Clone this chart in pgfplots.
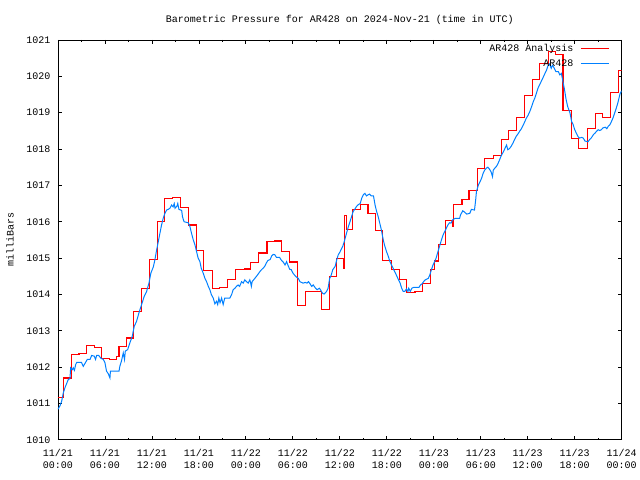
\documentclass[border=0pt]{standalone}
\usepackage{pgfplots}
\pgfplotsset{compat=1.18}
\usepackage{fontspec}
\setmainfont{Liberation Mono}
\definecolor{arred}{RGB}{255,0,0}
\definecolor{arblue}{RGB}{0,128,255}
\pgfplotstableread{
t p
0 1011.16
0.68 1011.70
1.74 1012.34
2.68 1012.38
3.6 1012.59
4.72 1012.53
5.6 1012.23
6.6 1012.21
7.5 1012.30
7.8 1012.56
8.7 1012.80
9.7 1013.52
10.7 1014.17
11.7 1014.97
12.68 1016.00
13.66 1016.65
14.64 1016.67
15.66 1016.40
16.64 1015.91
17.7 1015.20
18.6 1014.65
19.7 1014.16
20.6 1014.20
21.6 1014.40
22.7 1014.68
23.8 1014.70
24.6 1014.88
25.6 1015.14
26.7 1015.45
27.6 1015.47
28.6 1015.18
29.6 1014.89
30.6 1013.69
31.6 1014.08
32.7 1014.07
33.7 1013.58
34.7 1014.49
35.6 1015.00
36.5 1014.72
36.6 1016.16
36.9 1015.78
37.6 1016.33
38.6 1016.47
39.6 1016.23
40.6 1015.75
41.5 1014.93
42.6 1014.68
43.6 1014.40
44.5 1014.05
45.6 1014.08
46.6 1014.29
47.6 1014.68
48.1 1014.92
48.6 1015.38
49.55 1016.03
50.35 1015.86
50.55 1016.47
51.6 1016.62
52.5 1016.85
53.6 1017.47
54.5 1017.75
55.6 1017.82
56.6 1018.27
57.6 1018.52
58.6 1018.87
59.6 1019.46
60.6 1019.92
61.5 1020.36
62.6 1020.68
63.6 1020.59
64.5 1019.05
65.6 1018.30
66.5 1018.02
67.6 1018.57
68.6 1018.97
69.6 1018.87
70.6 1019.56
71.6 1020.15
72 1020.15
}\analysis
\pgfplotstableread{
t p
0.0 1010.84
0.25 1010.93
0.47 1011.06
0.68 1011.29
0.89 1011.43
1.11 1011.55
1.32 1011.66
1.53 1011.68
1.62 1011.98
1.83 1011.93
1.95 1011.98
2.1 1011.91
2.26 1012.07
2.4 1012.13
3.0 1012.13
3.23 1012.02
3.45 1012.10
3.74 1012.21
4.1 1012.21
4.3 1012.32
4.64 1012.30
4.8 1012.21
4.94 1012.32
5.2 1012.32
5.5 1012.24
5.8 1012.21
6.0 1012.12
6.2 1011.89
6.42 1011.82
6.64 1011.70
6.7 1011.89
7.8 1011.89
7.9 1012.02
8.1 1012.16
8.34 1012.39
8.5 1012.21
8.6 1012.44
8.9 1012.48
9.19 1012.67
9.49 1012.85
9.74 1013.12
10.04 1013.26
10.34 1013.49
10.68 1013.72
11.02 1013.95
11.32 1014.08
11.62 1014.31
11.87 1014.59
12.17 1014.75
12.38 1014.95
12.6 1015.22
12.81 1015.45
13.02 1015.68
13.23 1015.91
13.45 1016.10
13.66 1016.23
13.87 1016.32
14.08 1016.34
14.3 1016.37
14.51 1016.46
14.7 1016.41
14.85 1016.50
14.95 1016.37
15.2 1016.43
15.3 1016.50
15.45 1016.34
15.8 1016.31
15.9 1016.14
16.1 1016.00
16.64 1015.97
16.85 1015.87
17.06 1015.68
17.28 1015.50
17.5 1015.36
17.7 1015.18
17.9 1015.00
18.13 1014.90
18.3 1014.72
18.56 1014.58
18.77 1014.44
18.98 1014.35
19.2 1014.22
19.4 1014.13
19.6 1013.99
19.83 1013.90
20.04 1013.74
20.25 1013.81
20.4 1013.72
20.55 1013.90
20.7 1013.77
20.9 1013.90
21.1 1013.72
21.3 1013.90
21.95 1013.90
22.17 1013.99
22.38 1014.13
22.6 1014.17
22.8 1014.22
23.0 1014.26
23.2 1014.22
23.45 1014.35
23.66 1014.31
23.87 1014.40
24.08 1014.35
24.3 1014.31
24.5 1014.40
24.6 1014.33
24.7 1014.22
24.8 1014.35
25.4 1014.51
25.8 1014.63
26.0 1014.68
26.2 1014.72
26.4 1014.77
26.6 1014.86
26.8 1014.93
27.1 1014.96
27.3 1015.06
27.5 1015.10
27.7 1015.09
27.9 1015.02
28.3 1015.02
28.5 1014.95
28.8 1014.88
29.0 1014.81
29.2 1014.90
29.4 1014.79
29.6 1014.69
29.8 1014.68
30.0 1014.59
30.3 1014.51
30.5 1014.47
30.7 1014.44
30.9 1014.35
31.3 1014.31
31.6 1014.33
31.8 1014.31
32.0 1014.35
32.2 1014.29
32.4 1014.22
32.6 1014.26
32.9 1014.17
33.1 1014.13
33.4 1014.17
33.6 1014.10
33.8 1014.03
34.0 1014.01
34.3 1014.08
34.5 1014.17
34.7 1014.44
34.9 1014.53
35.1 1014.68
35.4 1014.77
35.6 1014.95
35.8 1015.09
36.0 1015.16
36.2 1015.25
36.4 1015.34
36.6 1015.48
36.85 1015.68
37.1 1015.87
37.3 1016.00
37.5 1016.14
37.7 1016.28
37.9 1016.34
38.1 1016.41
38.3 1016.46
38.6 1016.50
38.8 1016.65
39.0 1016.74
39.2 1016.78
39.4 1016.71
39.6 1016.74
39.8 1016.76
40.0 1016.71
40.3 1016.71
40.5 1016.46
40.7 1016.28
40.9 1016.14
41.1 1015.96
41.3 1015.78
41.5 1015.55
41.7 1015.36
41.96 1015.18
42.2 1015.04
42.4 1014.90
42.6 1014.81
42.8 1014.72
43.0 1014.63
43.2 1014.54
43.5 1014.40
43.7 1014.31
43.9 1014.17
44.1 1014.08
44.3 1014.08
44.5 1014.15
44.7 1014.08
44.8 1014.17
45.0 1014.08
45.2 1014.17
45.4 1014.19
46.1 1014.19
46.3 1014.26
46.5 1014.29
46.7 1014.35
46.9 1014.40
47.3 1014.44
47.5 1014.54
47.7 1014.68
47.9 1014.81
48.1 1014.90
48.3 1015.00
48.55 1015.19
48.8 1015.37
48.98 1015.50
49.2 1015.64
49.4 1015.73
49.6 1015.82
49.8 1015.91
50.0 1015.97
50.2 1015.96
50.4 1016.05
50.7 1016.09
51.3 1016.09
51.4 1016.18
51.7 1016.30
51.9 1016.27
52.2 1016.21
52.6 1016.23
52.8 1016.34
53.2 1016.32
53.35 1016.60
53.45 1016.83
53.7 1017.01
53.9 1017.10
54.1 1017.19
54.3 1017.33
54.5 1017.42
54.7 1017.47
54.9 1017.50
55.1 1017.45
55.3 1017.38
55.5 1017.24
55.6 1017.42
55.9 1017.50
56.0 1017.52
56.2 1017.60
56.4 1017.70
56.6 1017.81
56.9 1017.93
57.1 1018.02
57.3 1018.11
57.45 1017.98
57.6 1018.00
57.7 1018.02
57.9 1018.08
58.1 1018.16
58.3 1018.25
58.5 1018.34
58.8 1018.43
59.0 1018.50
59.2 1018.56
59.4 1018.65
59.6 1018.74
59.8 1018.84
60.05 1018.93
60.3 1019.05
60.5 1019.17
60.7 1019.30
60.9 1019.40
61.1 1019.53
61.3 1019.67
61.5 1019.76
61.7 1019.85
61.9 1019.94
62.2 1020.08
62.4 1020.17
62.6 1020.30
62.8 1020.34
63.0 1020.22
63.15 1020.30
63.3 1020.26
63.6 1020.13
63.9 1020.13
64.1 1020.04
64.3 1020.08
64.5 1019.85
64.7 1019.63
64.9 1019.36
65.1 1019.17
65.4 1018.99
65.6 1018.76
65.8 1018.67
66.0 1018.53
66.2 1018.44
66.4 1018.35
66.6 1018.30
66.9 1018.32
67.1 1018.30
67.3 1018.22
67.7 1018.20
67.9 1018.26
68.1 1018.30
68.4 1018.40
68.6 1018.44
68.8 1018.49
69.0 1018.53
69.2 1018.51
69.4 1018.53
69.6 1018.58
69.9 1018.60
70.1 1018.56
70.3 1018.63
70.5 1018.67
70.7 1018.76
70.9 1018.86
71.1 1018.99
71.3 1019.12
71.5 1019.26
71.7 1019.44
71.8 1019.53
72.0 1019.60
}\station
\begin{document}
\begin{tikzpicture}[font=\fontsize{10bp}{12bp}\selectfont]
\begin{axis}[
  scale only axis, width=564bp, height=400bp,
  xmin=0, xmax=72, ymin=1010, ymax=1021,
  xtick={0,6,...,72}, minor xtick={3,9,...,69},
  xticklabels={{11/21\\00:00},{11/21\\06:00},{11/21\\12:00},{11/21\\18:00},
               {11/22\\00:00},{11/22\\06:00},{11/22\\12:00},{11/22\\18:00},
               {11/23\\00:00},{11/23\\06:00},{11/23\\12:00},{11/23\\18:00},
               {11/24\\00:00}},
  xticklabel style={align=center, yshift=-6bp},
  ytick={1010,1011,...,1021},
  yticklabel style={xshift=-4bp},
  /pgf/number format/1000 sep={},
  /pgf/number format/assume math mode=true,
  major tick length=4bp, minor tick length=2bp,
  tick style={black, line width=0.8bp},
  axis line style={black, line width=0.8bp},
  legend cell align=right,
  legend plot pos=right,
  legend image code/.code={\path (0bp,0bp); \draw[#1] (6bp,0bp) -- (34bp,0bp);},
  legend style={at={(rel axis cs:1,1)}, anchor=north east, draw=none, fill=none,
    inner sep=0pt, xshift=-12bp, yshift=-3bp, row sep=5bp,
    nodes={inner sep=1pt}},
]
\addplot[const plot, color=arred, line width=1.1bp] table[x=t,y=p] {\analysis};
\addlegendentry{AR428 Analysis}
\addplot[color=arblue, line width=1bp] table[x=t,y=p] {\station};
\addlegendentry{AR428}
\end{axis}
\node at ([yshift=20bp]current axis.north) {Barometric Pressure for AR428 on 2024-Nov-21 (time in UTC)};
\node[rotate=90] at ([xshift=-48bp]current axis.west) {milliBars};
\path[use as bounding box] ([shift={(-58bp,-40bp)}]current axis.south west) rectangle ([shift={(18bp,40bp)}]current axis.north east);
\end{tikzpicture}
\end{document}
